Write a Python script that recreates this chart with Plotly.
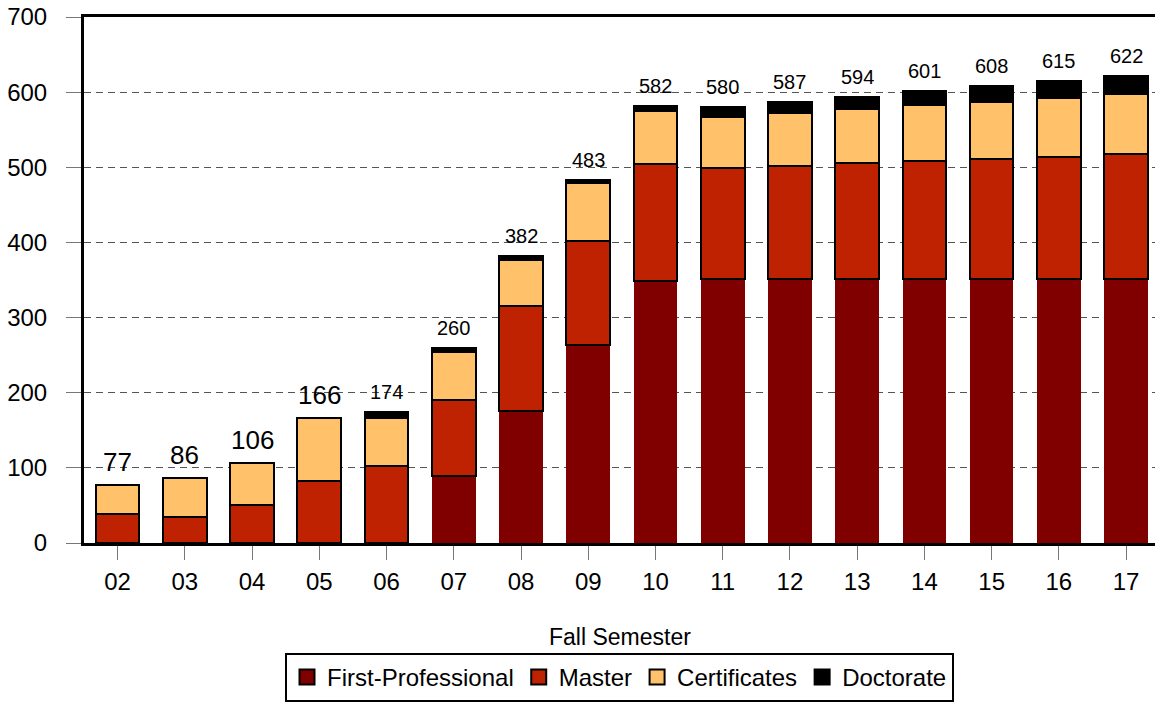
import plotly.graph_objects as go

years = ["02", "03", "04", "05", "06", "07", "08", "09", "10", "11", "12", "13", "14", "15", "16", "17"]
first_professional = [0, 0, 0, 0, 0, 89, 176, 264, 349, 351, 351, 351, 351, 351, 351, 351]
master = [38, 35, 50, 83, 102, 101, 140, 138, 155, 148, 151, 155, 158, 160, 163, 167]
certificates = [39, 51, 56, 83, 65, 64, 61, 77, 71, 68, 70, 71, 74, 76, 78, 80]
doctorate = [0, 0, 0, 0, 7, 6, 5, 4, 7, 13, 15, 17, 18, 21, 23, 24]
totals = [77, 86, 106, 166, 174, 260, 382, 483, 582, 580, 587, 594, 601, 608, 615, 622]
big_label = [True, True, True, True] + [False] * 12

series_names = ["First-Professional", "Master", "Certificates", "Doctorate"]
series_colors = ["#800000", "#BF2200", "#FFC26B", "#000000"]

FONT = "Liberation Sans, Arial, sans-serif"

fig = go.Figure()
series_values = [first_professional, master, certificates, doctorate]
for name, color, vals in zip(series_names, series_colors, series_values):
    outline = dict(width=0) if name == "First-Professional" else dict(color="black", width=2)
    fig.add_trace(go.Bar(name=name, x=years, y=vals, width=0.65, showlegend=False,
                         marker=dict(color=color, line=outline)))

# legend entries (square swatches with black border)
for name, color in zip(series_names, series_colors):
    fig.add_trace(go.Scatter(name=name, x=[None], y=[None], mode="markers",
                             marker=dict(symbol="square", size=15, color=color,
                                         line=dict(color="black", width=2))))

for i, (tot, big) in enumerate(zip(totals, big_label)):
    fig.add_annotation(x=i, y=tot, text=str(tot), showarrow=False,
                       yanchor="bottom", yshift=6 if big else 7,
                       font=dict(family=FONT, size=26 if big else 20, color="black"))

fig.add_annotation(x=0.5, y=-0.179, xref="paper", yref="paper", text="Fall Semester",
                   showarrow=False, yanchor="middle", xanchor="center",
                   font=dict(family=FONT, size=23, color="black"))

fig.update_layout(
    barmode="stack",
    width=1155, height=704,
    margin=dict(l=84, r=0, t=17, b=161, autoexpand=False),
    plot_bgcolor="white", paper_bgcolor="white",
    font=dict(family=FONT, size=23, color="black"),
    legend=dict(orientation="h", x=0.5, xanchor="center", y=-0.302, yanchor="bottom",
                bordercolor="black", borderwidth=2, font=dict(family=FONT, size=24),
                itemwidth=30, traceorder="normal", tracegroupgap=0,
                itemclick=False, itemdoubleclick=False),
    showlegend=True,
)
fig.update_xaxes(
    type="category", range=[-0.5, 15.43], automargin=False,
    showline=True, linecolor="black", linewidth=3, mirror=True,
    ticks="outside", ticklen=14, tickcolor="#777777", tickwidth=1,
    ticklabelstandoff=1, showgrid=False, ticklabeloverflow="allow",
    tickfont=dict(family=FONT, size=24),
)
fig.update_yaxes(
    range=[0, 700], dtick=100, tick0=0, automargin=False,
    showline=True, linecolor="black", linewidth=3,
    ticks="outside", ticklen=15, tickcolor="#777777", tickwidth=1,
    ticklabelstandoff=14, ticklabeloverflow="allow",
    showgrid=True, gridcolor="#555555", gridwidth=1, griddash="7px,5px",
    zeroline=False,
    tickfont=dict(family=FONT, size=24),
)

# remove the default page margin so the figure sits at the window's top-left corner
fig.write_html("out.html",
               config={"displayModeBar": False},
               post_script="document.body.style.margin='0';document.body.style.overflow='hidden';")
